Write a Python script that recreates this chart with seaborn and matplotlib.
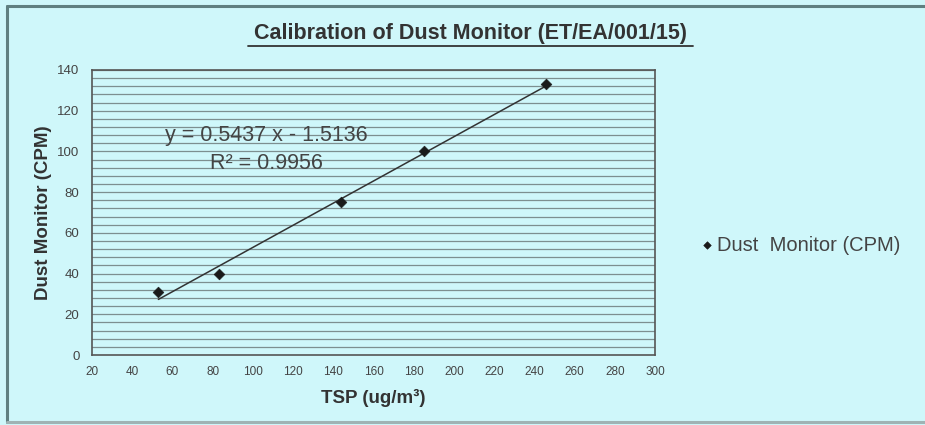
import matplotlib
matplotlib.use("Agg")
import matplotlib.pyplot as plt
import matplotlib.patches as mpatches
import numpy as np
import pandas as pd
import seaborn as sns

# Calibration readings
tsp = [53, 83, 144, 185, 246]          # TSP (ug/m3)
cpm = [31, 40, 75, 100, 133]           # Dust monitor (CPM)
series_name = "Dust  Monitor (CPM)"

# Linear trendline as reported on the chart
slope = 0.5437
intercept = -1.5136
r_squared = 0.9956

x_ticks = list(range(20, 301, 20))
y_ticks = list(range(0, 141, 20))
y_grid = list(range(4, 141, 4))

bg = "#cff7fa"
sns.set_theme(style="white")
plt.rcParams["font.family"] = ["Liberation Sans", "DejaVu Sans"]

fig = plt.figure(figsize=(9.25, 4.25), dpi=100, facecolor=bg)
ax = fig.add_axes([0.0995, 0.1647, 0.6086, 0.6706])
ax.set_facecolor(bg)

# outer chart frame: dark top/left, faint bottom
frame_kw = dict(transform=fig.transFigure, linewidth=2.2, zorder=0)
fig.add_artist(plt.Line2D([7 / 925, 1.0], [1 - 6 / 425, 1 - 6 / 425], color="#5f7f80", **frame_kw))
fig.add_artist(plt.Line2D([7 / 925, 7 / 925], [3 / 425, 1 - 6 / 425], color="#5f7f80", **frame_kw))
fig.add_artist(plt.Line2D([7 / 925, 1.0], [3 / 425, 3 / 425], color="#9fb3b4", **frame_kw))

df = pd.DataFrame({"TSP": tsp, "CPM": cpm})

# horizontal gridlines
for g in y_grid:
    ax.axhline(g, color="#7d8f90", linewidth=0.9, zorder=0.5)

# trendline over the data range
xs = np.array([min(tsp), max(tsp)])
trend = pd.DataFrame({"TSP": xs, "CPM": slope * xs + intercept})
sns.lineplot(data=trend, x="TSP", y="CPM", ax=ax, color="#333333", linewidth=1.1, zorder=2)

sns.scatterplot(data=df, x="TSP", y="CPM", ax=ax, marker="D", s=30, color="#1a1a1a",
                edgecolor="#1a1a1a", zorder=3, label=series_name)

ax.set_xlim(20, 300)
ax.set_ylim(0, 140)
ax.set_xticks(x_ticks)
ax.set_yticks(y_ticks)
ax.tick_params(axis="both", which="major", colors="#555555",
               labelcolor="#444444", length=4, width=0.8, direction="out")
ax.tick_params(axis="x", labelsize=8.5, pad=4)
ax.tick_params(axis="y", labelsize=9.5, pad=5)
for s in ax.spines.values():
    s.set_color("#555555")
    s.set_linewidth(1.2)

ax.set_xlabel("TSP (ug/m³)", fontsize=13.5, fontweight="bold", color="#333333", labelpad=8)
ax.set_ylabel("Dust Monitor (CPM)", fontsize=13.5, fontweight="bold", color="#333333", labelpad=4)

ax.text(106.5, 108, f"y = {slope:.4f} x - {abs(intercept):.4f}", ha="center", va="center",
        fontsize=15.5, color="#444444")
ax.text(106.5, 94, f"R² = {r_squared:.4f}", ha="center", va="center",
        fontsize=15.5, color="#444444")

fig.text(470 / 925, 1 - 34 / 425, "Calibration of Dust Monitor (ET/EA/001/15)",
         ha="center", va="center", fontsize=15.5, fontweight="bold", color="#333333")
# underline under the title
fig.add_artist(plt.Line2D([248 / 925, 693 / 925], [1 - 46 / 425, 1 - 46 / 425],
                          transform=fig.transFigure, color="#333333", linewidth=1.3))

leg = ax.legend(loc="center left", bbox_to_anchor=(1.045, 0.385), frameon=False,
                fontsize=14.5, handletextpad=0.1, handlelength=0.8, markerscale=0.7)
for t in leg.get_texts():
    t.set_color("#444444")

fig.savefig("out.png", dpi=100, facecolor=bg)
